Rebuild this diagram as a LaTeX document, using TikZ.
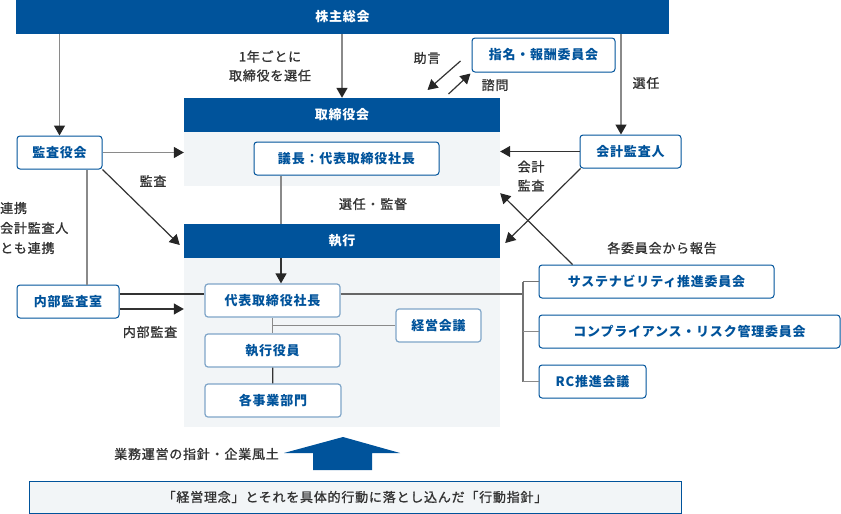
\documentclass[tikz,border=0pt]{standalone}
\usepackage{fontspec}
\setmainfont{Noto Sans CJK JP}[LetterSpace=6]
\newfontfamily\midfont{Noto Sans CJK JP}[LetterSpace=6, FakeBold=1.2]
\usetikzlibrary{arrows.meta}
\definecolor{navy}{HTML}{00539B}
\definecolor{pale}{HTML}{F2F5F7}
\definecolor{soft}{HTML}{7FA5C8}
\definecolor{ink}{HTML}{333333}
\definecolor{wire}{HTML}{8A8A8A}
\begin{document}
\begin{tikzpicture}[x=1pt, y=-1pt,
	font=\fontsize{13}{19}\selectfont,
	bar/.style={fill=navy, text=white, font=\fontsize{13}{19}\selectfont\bfseries, inner sep=0pt, minimum height=34pt},
	box/.style={draw=navy, fill=white, rounded corners=3pt, line width=1pt, text=navy, font=\fontsize{13}{19}\selectfont\bfseries, inner sep=0pt, minimum height=33pt},
	sbox/.style={box, draw=soft, line width=1.2pt},
	area/.style={fill=pale, inner sep=0pt},
	lbl/.style={text=ink, align=center, inner sep=0pt, font=\fontsize{13}{19}\midfont},
	gl/.style={draw=wire, line width=1.5pt},
	dl/.style={draw=ink, line width=1.2pt},
	arr/.style={-{Triangle[length=10pt, width=11pt, color=black!85]}}]
	\useasboundingbox (0,0) rectangle (841,514);
	\node[bar, minimum width=653pt] (GM) at (342.5,17) {株主総会};
	\node[area, minimum width=316pt, minimum height=54pt] (BG) at (342,159) {};
	\node[bar, minimum width=316pt] (BD) at (342,115) {取締役会};
	\node[box, minimum width=185pt] (CH) at (346.5,158.5) {議長：代表取締役社長};
	\node[area, minimum width=316pt, minimum height=169pt] (XG) at (342,342.5) {};
	\node[bar, minimum width=316pt] (EX) at (342,241) {執行};
	\node[sbox, minimum width=135pt] (CEO) at (272.5,300.5) {代表取締役社長};
	\node[sbox, minimum width=135pt] (OF) at (272.5,350.5) {執行役員};
	\node[sbox, minimum width=136pt] (DP) at (273,400.5) {各事業部門};
	\node[sbox, minimum width=85pt] (MM) at (438.5,325.5) {経営会議};
	\node[box, minimum width=235pt] (SU) at (656.5,281.5) {サステナビリティ推進委員会};
	\node[box, minimum width=301pt] (CO) at (689.5,331.5) {コンプライアンス・リスク管理委員会};
	\node[box, minimum width=107pt] (RC) at (592.5,381.5) {RC推進会議};
	\node[box, minimum width=101pt] (AU) at (630.5,151.5) {会計監査人};
	\node[box, minimum width=143pt, minimum height=34pt] (NC) at (543.5,55) {指名・報酬委員会};
	\node[box, minimum width=85pt] (KA) at (59.5,152.5) {監査役会};
	\node[box, minimum width=102pt] (IA) at (68,301.5) {内部監査室};
	\node[draw=navy, fill=pale, line width=1pt, minimum width=652pt, minimum height=32pt, inner sep=0pt, text=ink, font=\fontsize{13}{19}\midfont] (PH) at (355,497) {「経営理念」とそれを具体的行動に落とし込んだ「行動指針」};
	\fill[navy] (313,470) -- (313,453) -- (284,453) -- (343,437) -- (400,453) -- (372,453) -- (372,470) -- cycle;

	\node[lbl] (L1) at (270,66) {1年ごとに\\取締役を選任};
	\node[lbl] (L2) at (427,58) {助言};
	\node[lbl] (L3) at (495,85) {諮問};
	\node[lbl] (L4) at (646,83) {選任};
	\node[lbl] (L5) at (531,176) {会計\\監査};
	\node[lbl] (L6) at (153,181) {監査};
	\node[lbl, align=left, anchor=west, font=\fontsize{13}{20}\midfont] (L7) at (0,228) {連携\\会計監査人\\とも連携};
	\node[lbl] (L8) at (373,204) {選任・監督};
	\node[lbl] (L9) at (662,248) {各委員会から報告};
	\node[lbl] (L10) at (150,332) {内部監査};
	\node[lbl, anchor=east] (L11) at (279,454) {業務運営の指針・企業風土};

	\coordinate (V) at (281,0);
	\coordinate (J) at (523,294);
	\coordinate (AT) at ([xshift=-9.5pt]AU.north);
	\coordinate (KB) at ([xshift=27.5pt]KA.south);

	\draw[gl, arr] (GM.south -| KA) -- (KA);
	\draw[gl, arr] (GM.south -| BD) -- (BD);
	\draw[gl, arr] (GM.south -| AT) -- (AT);
	\draw[gl, arr] (KA.east) -- (KA.east -| BG.west);
	\draw[dl, arr] (KA.south east) -- ([xshift=-4pt, yshift=-4pt]EX.west);
	\draw[dl, arr] (AU.west) -- (AU.west -| BG.east);
	\draw[dl, arr] ([xshift=1pt]AU.south west) -- ([xshift=5pt, yshift=-2pt]EX.east);
	\draw[dl, arr] ([xshift=34pt]SU.north west) -- ([yshift=-7pt]BG.south east);
	\draw[dl, arr] ([xshift=-11pt, yshift=-6pt]NC.west) -- ([xshift=-44pt, yshift=-35pt]NC.west);
	\draw[dl, arr] ([xshift=-23pt, yshift=-39pt]NC.west) -- ([xshift=-1pt, yshift=-1pt]NC.south west);
	\draw[gl] (V |- CH.south) -- (V |- EX.north);
	\draw[dl, arr] (V |- EX.south) -- (V |- CEO.north);
	\draw[gl] (KB) -- (KB |- IA.north);
	\draw[dl, arr] ([yshift=-7.5pt]IA.east) -- ([yshift=-7.5pt]IA.east -| XG.west);
	\draw[dl] ([yshift=7.5pt]IA.east) -- ([yshift=7.5pt]IA.east -| CEO.west);
	\draw[gl] (CEO) -- (OF);
	\draw[gl] (MM.west -| CEO.south) -- (MM.west);
	\draw[dl] (OF) -- (DP);
	\draw[dl, draw=black!60] (CEO.east |- J) -- (J);
	\draw[gl, draw=black!55] (J |- SU.west) -- (J |- RC.west);
	\draw[gl, draw=black!55] (J |- SU.west) -- (SU.west);
	\draw[gl] (J |- CO.west) -- (CO.west);
	\draw[gl] (J |- RC.west) -- (RC.west);
\end{tikzpicture}
\end{document}
